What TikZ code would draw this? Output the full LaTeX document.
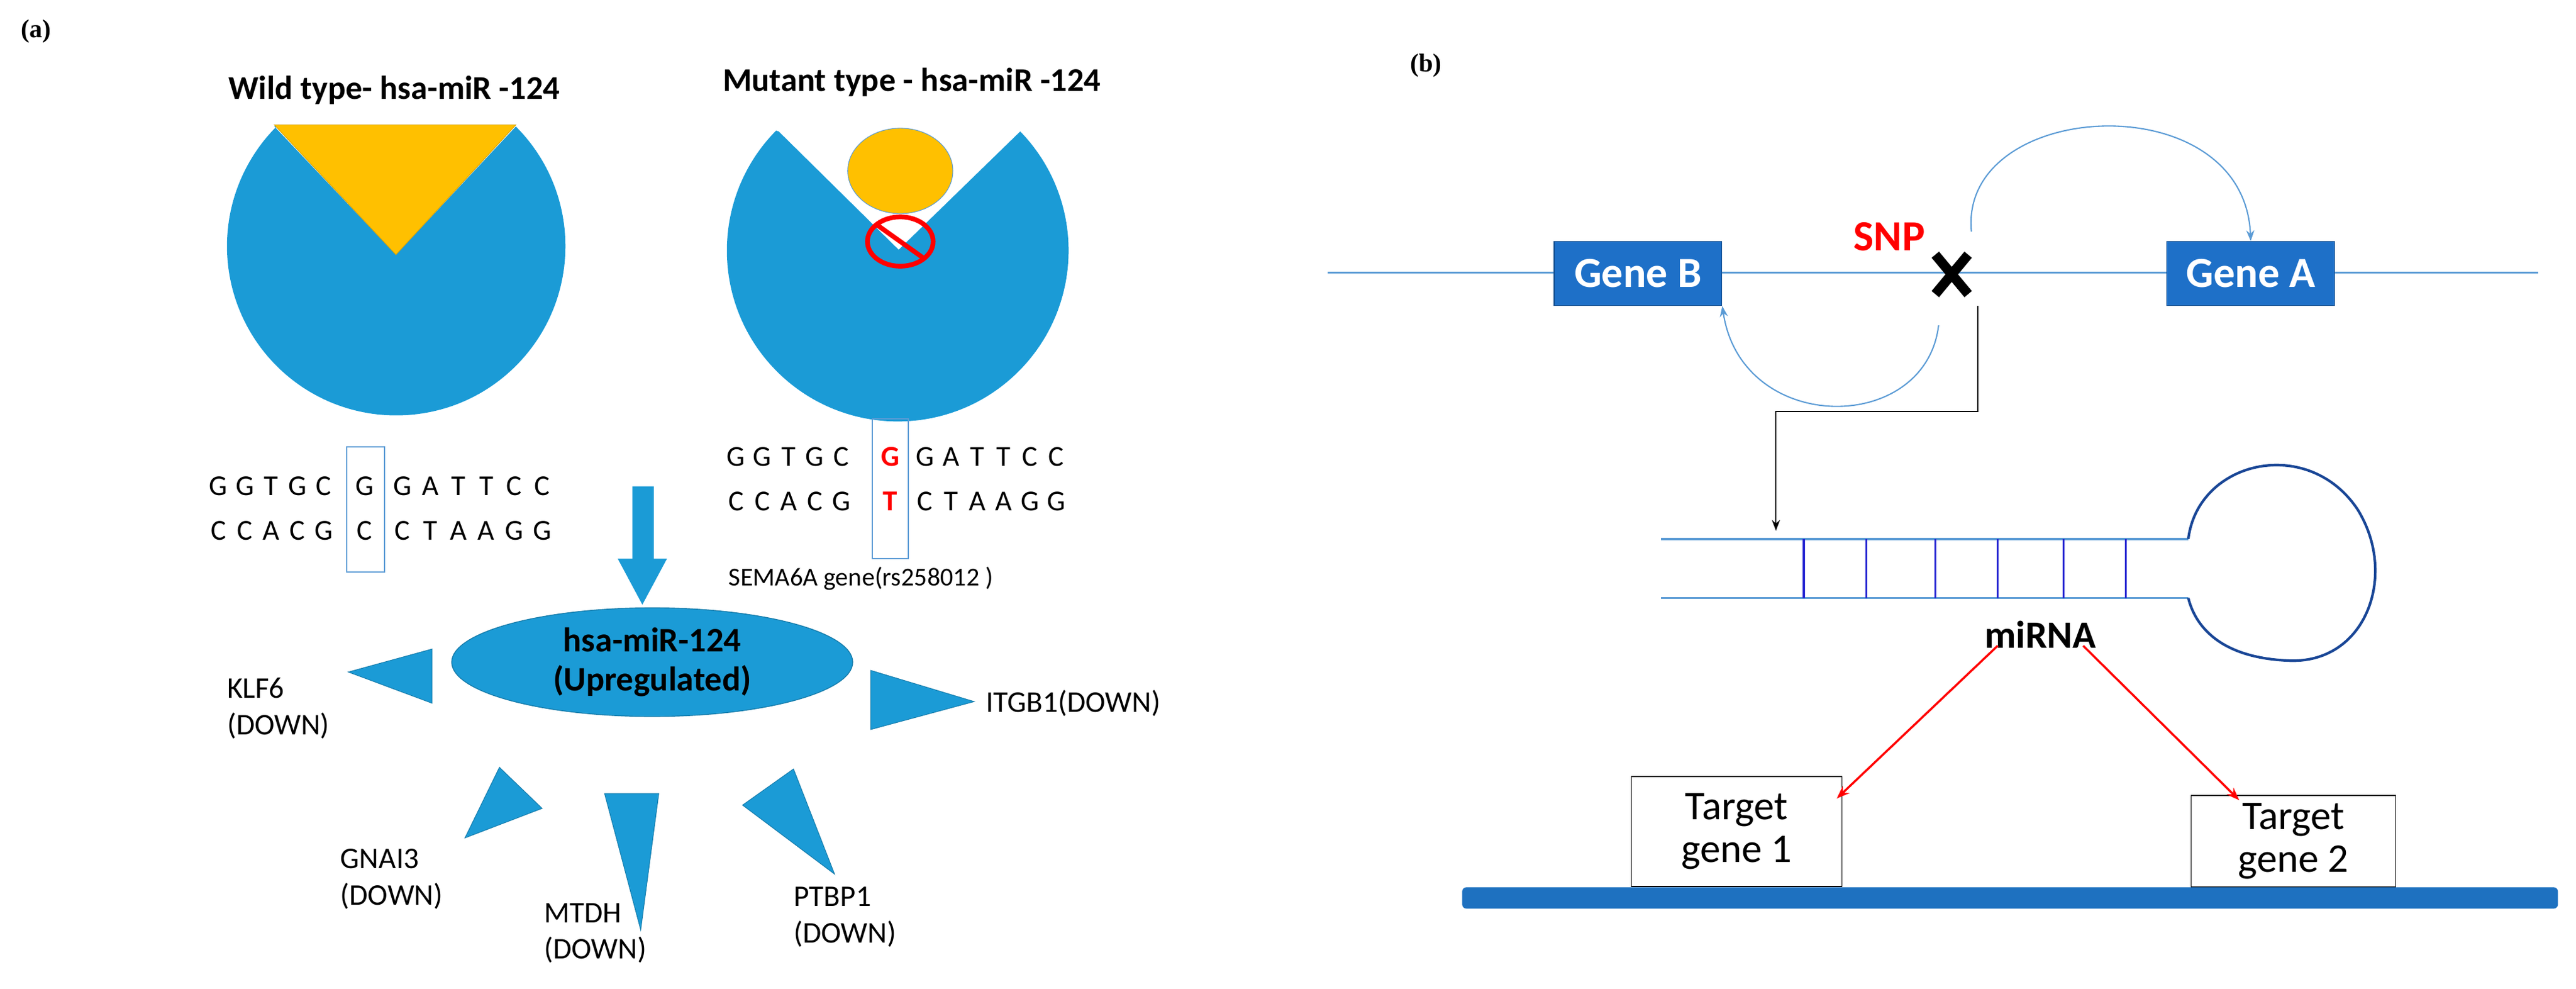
\documentclass[tikz,border=0pt]{standalone}
\usepackage{fontspec}
\setmainfont{Carlito}
\newfontfamily\serifbf{Liberation Serif}
\usetikzlibrary{arrows.meta,shapes.geometric}
\definecolor{pac}{RGB}{27,155,214}
\definecolor{gold}{RGB}{255,192,0}
\definecolor{genebox}{RGB}{30,112,200}
\definecolor{dna}{RGB}{91,155,213}
\definecolor{loopblue}{RGB}{25,70,150}
\definecolor{rung}{RGB}{40,40,210}
\definecolor{bar}{RGB}{30,113,192}
\tikzset{
  panel/.style={font=\serifbf\bfseries\fontsize{12}{12}\selectfont},
  title/.style={font=\bfseries\fontsize{15.5}{16}\selectfont},
  seq/.style={font=\fontsize{13.5}{13.5}\selectfont, inner sep=0pt},
  lab/.style={font=\fontsize{14}{17}\selectfont, align=left, inner sep=0pt},
  spike/.style={fill=pac, draw=pac!80!black, line width=0.3pt},
  gene/.style={fill=genebox, draw=genebox!70!black, text=white, font=\bfseries\fontsize{20}{20}\selectfont, minimum width=2.75cm, minimum height=1.05cm},
  tgt/.style={draw=black, fill=white, font=\fontsize{19}{20}\selectfont, align=center, inner sep=2pt, minimum width=3.45cm, minimum height=1.8cm}
}
\begin{document}
\begin{tikzpicture}[x=0.02691cm, y=-0.02691cm]
\useasboundingbox (0,0) rectangle (1568,601.6);

% ---------- (a) ----------
\node[panel] (pa) at (22,19) {(a)};
\node[title] (t1) at (240,55) {Wild type- hsa-miR -124};
\node[title] (t2) at (555,50) {Mutant type - hsa-miR -124};

% wild type receptor
\fill[pac] (167,77) -- (241,155) -- (314,77) arc[start angle=-45, end angle=226, radius=103] -- cycle;
\fill[gold, draw=gold!85!black, line width=0.3pt] (167,76) -- (314,76) -- (241,155) -- cycle;

% mutant receptor
\fill[pac] (474,80) -- (547,152) -- (621,80) arc[start angle=-44.2, end angle=224.6, radius=104] -- cycle;
\fill[gold, draw=dna, line width=0.3pt] (548,104) ellipse[x radius=32, y radius=26];
\draw[red, line width=2.2pt] (548,147) ellipse[x radius=20, y radius=15];
\draw[red, line width=2.2pt] (534,137) -- (562,157);

% wild type sequence
\foreach \c [count=\i from 0] in {G,G,T,G,C} \node[seq] at (133+16*\i,296) {\c};
\foreach \c [count=\i from 0] in {C,C,A,C,G} \node[seq] at (133+16*\i,323) {\c};
\node[seq] (w1) at (222,296) {G};
\node[seq] (w2) at (222,323) {C};
\foreach \c [count=\i from 0] in {G,A,T,T,C,C} \node[seq] at (245+17*\i,296) {\c};
\foreach \c [count=\i from 0] in {C,T,A,A,G,G} \node[seq] at (245+17*\i,323) {\c};
\draw[dna, line width=0.6pt] (211,272) rectangle (234,348);

% mutant sequence
\foreach \c [count=\i from 0] in {G,G,T,G,C} \node[seq] at (448+16*\i,278) {\c};
\foreach \c [count=\i from 0] in {C,C,A,C,G} \node[seq] at (448+16*\i,305) {\c};
\node[seq, text=red, font=\bfseries\fontsize{13.5}{13.5}\selectfont] (m1) at (542,278) {G};
\node[seq, text=red, font=\bfseries\fontsize{13.5}{13.5}\selectfont] (m2) at (542,305) {T};
\foreach \c [count=\i from 0] in {G,A,T,T,C,C} \node[seq] at (563+16*\i,278) {\c};
\foreach \c [count=\i from 0] in {C,T,A,A,G,G} \node[seq] at (563+16*\i,305) {\c};
\draw[dna, line width=0.6pt] (531,255) rectangle (553,340);
\node[lab, font=\fontsize{12}{14}\selectfont] (sema) at (524,352) {SEMA6A gene(rs258012 )};

% block arrow down
\fill[pac] (385,296) -- (398,296) -- (398,340) -- (406,340) -- (391,368) -- (376,340) -- (385,340) -- cycle;

% central node
\node[fill=pac, draw=pac!80!black, ellipse, minimum width=6.57cm, minimum height=1.78cm,
  font=\bfseries\fontsize{16}{18}\selectfont, align=center, inner sep=0pt] (mir) at (397,403) {hsa-miR-124\\(Upregulated)};

% spikes
\fill[spike] (212,409) -- (263,395) -- (263,428) -- cycle;
\fill[spike] (593,427) -- (530,408) -- (530,444) -- cycle;
\fill[spike] (283,510) -- (304,467) -- (330,492) -- cycle;
\fill[spike] (368,483) -- (401,483) -- (390,566) -- cycle;
\fill[spike] (452,490) -- (483,468) -- (508,532) -- cycle;

\node[lab, anchor=west] (klf) at (138,431) {KLF6\\(DOWN)};
\node[lab, anchor=west] (itg) at (600,428) {ITGB1(DOWN)};
\node[lab, anchor=west] (gna) at (207,535) {GNAI3\\(DOWN)};
\node[lab, anchor=west] (mtd) at (331,568) {MTDH\\(DOWN)};
\node[lab, anchor=west] (ptb) at (483,558) {PTBP1\\(DOWN)};

% ---------- (b) ----------
\node[panel] (pb) at (868,40) {(b)};
\coordinate (l0) at (808,166);
\coordinate (l1) at (1545,166);
\draw[dna, line width=0.8pt] (l0) -- (l1);
\node[gene] (gB) at (997,166.5) {Gene B};
\node[gene] (gA) at (1370,166.5) {Gene A};
\node[font=\bfseries\fontsize{20}{20}\selectfont, text=red] (snp) at (1150,144) {SNP};
\coordinate (x) at (1188,167);
\draw[black, line width=4.5pt] (1178,155) -- (1198,179) (1198,155) -- (1178,179);

\coordinate (aS) at (1200,141);
\draw[dna, line width=0.6pt, -{Stealth[length=5pt]}] (aS) .. controls (1192,60) and (1366,50) .. (gA.north);
\coordinate (bS) at (1180,198);
\draw[dna, line width=0.6pt, -{Stealth[length=5pt]}] (bS) .. controls (1172,265) and (1060,265) .. (gB.south east);
\coordinate (kS) at (1204,186);
\coordinate (kE) at (1081,323);
\draw[black, line width=0.6pt, -{Stealth[length=5pt]}] (kS) |- (1081,250.5) -- (kE);

% hairpin
\draw[dna, line width=1pt] (1011,328) -- (1332,328) (1011,364) -- (1332,364);
\foreach \x in {1098,1136,1178,1216,1256,1294} \draw[rung, line width=1pt] (\x,328) -- (\x,364);
\draw[loopblue, line width=1.2pt] (1332,328) .. controls (1338,280) and (1405,265) .. (1435,310)
  .. controls (1460,350) and (1440,405) .. (1392,402) .. controls (1350,400) and (1336,380) .. (1332,364);
\node[font=\bfseries\fontsize{18}{18}\selectfont] (mi) at (1242,386) {miRNA};

\node[tgt] (tg1) at (1057,506) {Target\\gene 1};
\node[tgt, minimum width=3.35cm, minimum height=1.5cm] (tg2) at (1396,512) {Target\\gene 2};
\draw[red, line width=1pt, -{Stealth[length=6pt]}] (1216,393) -- (1118,486);
\draw[red, line width=1pt, -{Stealth[length=6pt]}] (1268,393) -- (1363,487);
\fill[bar, rounded corners=2pt] (890,540) rectangle (1557,553);
\end{tikzpicture}
\end{document}
